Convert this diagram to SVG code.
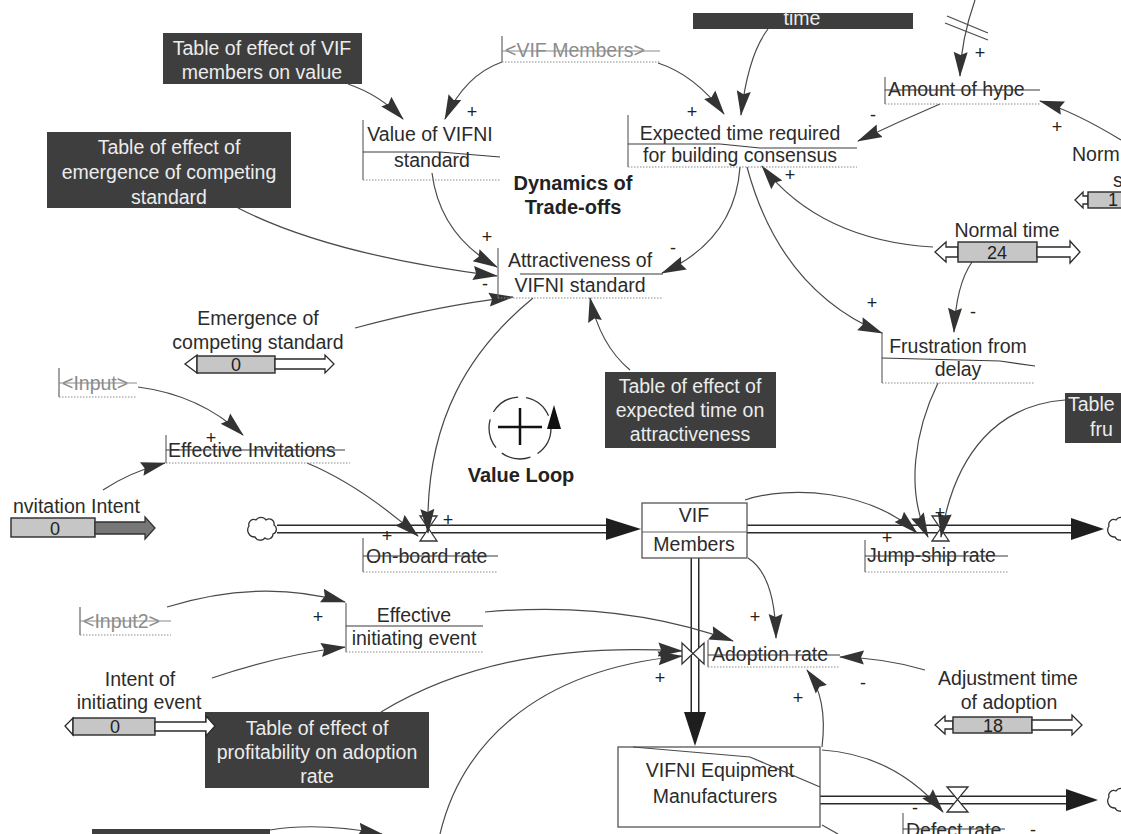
<svg xmlns="http://www.w3.org/2000/svg" width="1121" height="834" viewBox="0 0 1121 834">
  <style>
    .t { font-family: "Liberation Sans", Arial, sans-serif; font-size: 19.5px; fill: #2b2b2b; text-anchor: middle; }
    .ts { text-anchor: start; }
    .tw { fill: #ececec; }
    .tg { fill: #8c8c8c; }
    .bd { font-weight: bold; font-size: 20px; fill: #222; }
    .pm { font-family: "Liberation Sans", Arial, sans-serif; font-size: 18px; fill: #222; text-anchor: middle; }
    .v { font-family: "Liberation Sans", Arial, sans-serif; font-size: 18px; fill: #222; text-anchor: middle; }
    .tb { fill: #3e3e3e; }
    .ln { fill: none; stroke: #4a4a4a; stroke-width: 1.2; marker-end: url(#ah); }
    .lp { fill: none; stroke: #4a4a4a; stroke-width: 1.2; }
    .vl { stroke: #666; stroke-width: 1.2; }
    .dl { stroke: #8a8a8a; stroke-width: 1.2; stroke-dasharray: 1.5 1.5; }
    .st { stroke: #3a3a3a; stroke-width: 1.2; fill: none; }
    .sgr { stroke: #8a8a8a; stroke-width: 1.2; }
    .po { fill: none; stroke: #2a2a2a; stroke-width: 9; }
    .pi { fill: none; stroke: #fff; stroke-width: 6; }
    .fa { fill: #1e1e1e; }
    .valve { fill: #fff; stroke: #333; stroke-width: 1.3; }
    .cloud { fill: #fff; stroke: #333; stroke-width: 1.3; }
    .sk { fill: #c6c6c6; stroke: #2a2a2a; stroke-width: 1.4; }
    .sw { fill: #fff; stroke: #2a2a2a; stroke-width: 1.3; }
    .stock { fill: #fff; stroke: #555; stroke-width: 1.3; }
  </style>
  <defs>
    <marker id="ah" markerUnits="userSpaceOnUse" markerWidth="27" markerHeight="16" refX="24" refY="7.5" orient="auto" viewBox="0 0 27 16">
      <path d="M0,0.5 L25,7.5 L0,14.5 L3,7.5 z" fill="#333"/>
    </marker>
    <path id="cloud" class="cloud" d="M-13,-3 a5,5 0 0 1 7,-6 a6,6 0 0 1 10,0 a5,5 0 0 1 8,5 a5,5 0 0 1 -1,9 a5,5 0 0 1 -8,4 a6,6 0 0 1 -10,-1 a7,7 0 0 1 -6,-11 z"/>
  </defs>

  <rect width="1121" height="834" fill="#fff"/>

  <!-- material flows: pipes, valves, clouds -->
  <g id="flows">
    <path class="po" d="M277,529 H612 M747,529 H1075 M695,558 V716 M820,800 H1070"/>
    <path class="pi" d="M277,529 H612 M747,529 H1075 M695,558 V716 M820,800 H1070"/>
    <use href="#cloud" x="262" y="529"/>
    <use href="#cloud" x="1122" y="529"/>
    <use href="#cloud" x="1122" y="800"/>
    <polygon class="fa" points="606,518 641,529 606,540"/>
    <polygon class="fa" points="1071,518 1104,529 1071,540"/>
    <polygon class="fa" points="684,712 695,746 706,712"/>
    <polygon class="fa" points="1066,789 1098,800 1066,811"/>
    <path class="valve" d="M420,516 H437 L420,541 H437 Z"/>
    <path class="valve" d="M932,516 H949 L932,541 H949 Z"/>
    <path class="valve" d="M947,787 H968 L947,812 H968 Z"/>
    <path class="valve" d="M682,643 V664 L704,643 V664 Z"/>
  </g>

  <!-- stocks -->
  <g id="vif-members">
    <rect class="stock" x="642" y="503" width="105" height="55"/>
    <line x1="642" y1="532" x2="747" y2="532" stroke="#666" stroke-width="1.1"/>
    <text class="t" x="694" y="522">VIF</text>
    <text class="t" x="694" y="551">Members</text>
  </g>
  <g id="vifni-equipment-manufacturers">
    <rect class="stock" x="618" y="747" width="202" height="80"/>
    <text class="t" x="720" y="777">VIFNI Equipment</text>
    <text class="t" x="715" y="803">Manufacturers</text>
  </g>

  <!-- causal links -->
  <g id="connectors">
    <path class="ln" d="M348,84 Q380,95 403,119"/>
    <path class="ln" d="M502,62 Q465,75 445,119"/>
    <path class="ln" d="M658,63 Q695,75 724,114"/>
    <path class="ln" d="M768,29 Q748,55 741,115"/>
    <path class="ln" d="M975,0 Q961,40 960,76"/>
    <path class="lp" d="M947,16 L988,33 M945,23 L988,40"/>
    <path class="ln" d="M940,104 Q898,122 858,141"/>
    <path class="ln" d="M1121,140 Q1075,112 1040,101"/>
    <path class="ln" d="M933,247 Q820,240 762,166"/>
    <path class="ln" d="M972,262 Q956,285 954,332"/>
    <path class="ln" d="M747,167 Q780,290 882,333"/>
    <path class="ln" d="M740,167 Q735,240 662,273"/>
    <path class="ln" d="M432,173 Q440,235 497,267"/>
    <path class="ln" d="M238,208 Q330,255 497,276"/>
    <path class="ln" d="M355,328 Q440,305 513,297"/>
    <path class="ln" d="M630,370 Q600,345 590,298"/>
    <path class="ln" d="M533,298 C470,350 425,420 428,533"/>
    <path class="ln" d="M307,463 Q360,485 418,536"/>
    <path class="ln" d="M138,387 Q200,395 243,435"/>
    <path class="ln" d="M103,490 Q130,472 165,463"/>
    <path class="ln" d="M745,500 C790,485 870,490 917,533"/>
    <path class="ln" d="M938,383 C915,430 905,490 928,537"/>
    <path class="ln" d="M1065,400 C1000,405 955,450 941,537"/>
    <path class="ln" d="M167,607 Q260,578 345,602"/>
    <path class="ln" d="M212,678 Q280,655 345,647"/>
    <path class="ln" d="M381,712 Q500,640 682,651"/>
    <path class="ln" d="M440,834 C460,750 530,670 682,656"/>
    <path class="ln" d="M485,612 Q620,600 733,641"/>
    <path class="ln" d="M748,558 Q775,575 776,638"/>
    <path class="ln" d="M925,670 Q885,658 840,657"/>
    <path class="ln" d="M822,747 C826,715 822,690 807,670"/>
    <path class="ln" d="M822,750 Q895,755 943,812"/>
    <path class="ln" d="M270,830 C300,825 340,826 382,834"/>
    <polyline class="lp" points="633,747 750,757 820,787"/>
    <path class="lp" d="M822,825 L838,834"/>

    <!-- link polarities -->
    <text class="pm" x="472" y="118">+</text>
    <text class="pm" x="692" y="118">+</text>
    <text class="pm" x="980" y="59">+</text>
    <text class="pm" x="1057" y="133">+</text>
    <text class="pm" x="790" y="181">+</text>
    <text class="pm" x="487" y="243">+</text>
    <text class="pm" x="872" y="309">+</text>
    <text class="pm" x="211" y="444">+</text>
    <text class="pm" x="448" y="526">+</text>
    <text class="pm" x="387" y="542">+</text>
    <text class="pm" x="940" y="519">+</text>
    <text class="pm" x="887" y="544">+</text>
    <text class="pm" x="318" y="623">+</text>
    <text class="pm" x="755" y="623">+</text>
    <text class="pm" x="660" y="684">+</text>
    <text class="pm" x="798" y="704">+</text>
    <text class="pm" x="873" y="121">-</text>
    <text class="pm" x="673" y="254">-</text>
    <text class="pm" x="485" y="290">-</text>
    <text class="pm" x="973" y="318">-</text>
    <text class="pm" x="863" y="689">-</text>
    <text class="pm" x="915" y="814">-</text>
    <text class="pm" x="1033" y="836">-</text>
  </g>

  <!-- lookup tables -->
  <g id="table-vif-members-on-value">
    <rect class="tb" x="163" y="33" width="199" height="51"/>
    <text class="t tw" x="262" y="55">Table of effect of VIF</text>
    <text class="t tw" x="262" y="79">members on value</text>
  </g>
  <g id="table-emergence">
    <rect class="tb" x="47" y="132" width="244" height="76"/>
    <text class="t tw" x="169" y="154">Table of effect of</text>
    <text class="t tw" x="169" y="179">emergence of competing</text>
    <text class="t tw" x="169" y="204">standard</text>
  </g>
  <g id="table-time">
    <rect class="tb" x="693" y="13" width="220" height="16"/>
    <text class="t tw" x="802" y="25">time</text>
  </g>
  <g id="table-expected-time">
    <rect class="tb" x="605" y="372" width="171" height="76"/>
    <text class="t tw" x="690" y="393">Table of effect of</text>
    <text class="t tw" x="690" y="417">expected time on</text>
    <text class="t tw" x="690" y="441">attractiveness</text>
  </g>
  <g id="table-frustration">
    <rect class="tb" x="1065" y="393" width="56" height="50"/>
    <text class="t tw ts" x="1068" y="411">Table</text>
    <text class="t tw ts" x="1090" y="436">fru</text>
  </g>
  <g id="table-profitability">
    <rect class="tb" x="205" y="712" width="224" height="76"/>
    <text class="t tw" x="317" y="735">Table of effect of</text>
    <text class="t tw" x="317" y="759">profitability on adoption</text>
    <text class="t tw" x="317" y="783">rate</text>
  </g>
  <g id="table-bottom">
    <rect class="tb" x="92" y="829" width="178" height="10"/>
  </g>

  <!-- auxiliaries -->
  <g id="shadow-vif-members">
    <line class="vl" x1="502" y1="36" x2="502" y2="62"/>
    <text class="t tg ts" x="505" y="57">&lt;VIF Members&gt;</text>
    <line class="sgr" x1="502" y1="51" x2="660" y2="51"/>
    <line class="dl" x1="502" y1="62" x2="660" y2="62"/>
  </g>
  <g id="value-of-vifni-standard">
    <line class="vl" x1="363" y1="120" x2="363" y2="180"/>
    <text class="t" x="430" y="141">Value of VIFNI</text>
    <polyline class="st" points="363,152 440,152 500,157"/>
    <text class="t" x="432" y="167">standard</text>
    <line class="dl" x1="363" y1="180" x2="500" y2="180"/>
  </g>
  <g id="expected-time-required">
    <line class="vl" x1="628" y1="115" x2="628" y2="167"/>
    <text class="t" x="740" y="140">Expected time required</text>
    <polyline class="st" points="628,144 720,144 760,148 857,148"/>
    <text class="t" x="740" y="162">for building consensus</text>
    <line class="dl" x1="628" y1="167" x2="857" y2="167"/>
  </g>
  <g id="amount-of-hype">
    <line class="vl" x1="885" y1="77" x2="885" y2="104"/>
    <text class="t ts" x="888" y="96">Amount of hype</text>
    <line class="st" x1="885" y1="90" x2="1040" y2="90"/>
    <line class="dl" x1="885" y1="104" x2="1040" y2="104"/>
  </g>
  <g id="attractiveness-of-vifni-standard">
    <line class="vl" x1="498" y1="248" x2="498" y2="298"/>
    <text class="t" x="580" y="267">Attractiveness of</text>
    <line class="st" x1="520" y1="274" x2="663" y2="274"/>
    <text class="t" x="580" y="292">VIFNI standard</text>
    <line class="dl" x1="498" y1="298" x2="663" y2="298"/>
  </g>
  <g id="frustration-from-delay">
    <line class="vl" x1="882" y1="332" x2="882" y2="383"/>
    <text class="t" x="958" y="353">Frustration from</text>
    <polyline class="st" points="882,358 1000,361 1035,366"/>
    <text class="t" x="958" y="376">delay</text>
    <line class="dl" x1="882" y1="383" x2="1035" y2="383"/>
  </g>
  <g id="shadow-input">
    <line class="vl" x1="59" y1="368" x2="59" y2="397"/>
    <text class="t tg ts" x="62" y="390">&lt;Input&gt;</text>
    <line class="sgr" x1="59" y1="383" x2="137" y2="383"/>
    <line class="dl" x1="59" y1="397" x2="137" y2="397"/>
  </g>
  <g id="effective-invitations">
    <line class="vl" x1="166" y1="435" x2="166" y2="463"/>
    <text class="t ts" x="168" y="457">Effective Invitations</text>
    <line class="st" x1="166" y1="450" x2="345" y2="450"/>
    <line class="dl" x1="166" y1="463" x2="350" y2="463"/>
  </g>
  <g id="on-board-rate">
    <line class="vl" x1="363" y1="538" x2="363" y2="572"/>
    <text class="t ts" x="366" y="563">On-board rate</text>
    <line class="st" x1="363" y1="556" x2="498" y2="556"/>
    <line class="dl" x1="363" y1="572" x2="498" y2="572"/>
  </g>
  <g id="jump-ship-rate">
    <line class="vl" x1="865" y1="540" x2="865" y2="572"/>
    <text class="t ts" x="867" y="562">Jump-ship rate</text>
    <line class="st" x1="865" y1="556" x2="1008" y2="556"/>
    <line class="dl" x1="865" y1="572" x2="1008" y2="572"/>
  </g>
  <g id="shadow-input2">
    <line class="vl" x1="80" y1="607" x2="80" y2="635"/>
    <text class="t tg ts" x="83" y="628">&lt;Input2&gt;</text>
    <line class="sgr" x1="80" y1="621" x2="171" y2="621"/>
    <line class="dl" x1="80" y1="635" x2="171" y2="635"/>
  </g>
  <g id="effective-initiating-event">
    <line class="vl" x1="346" y1="603" x2="346" y2="652"/>
    <text class="t" x="414" y="622">Effective</text>
    <line class="st" x1="346" y1="626" x2="483" y2="626"/>
    <text class="t" x="414" y="645">initiating event</text>
    <line class="dl" x1="346" y1="652" x2="483" y2="652"/>
  </g>
  <g id="adoption-rate">
    <line class="vl" x1="708" y1="640" x2="708" y2="667"/>
    <text class="t ts" x="712" y="661">Adoption rate</text>
    <line class="st" x1="708" y1="655" x2="840" y2="655"/>
    <line class="dl" x1="708" y1="667" x2="840" y2="667"/>
  </g>
  <g id="defect-rate">
    <line class="vl" x1="903" y1="813" x2="903" y2="834"/>
    <text class="t ts" x="906" y="837">Defect rate</text>
    <line class="st" x1="903" y1="829" x2="1005" y2="829"/>
  </g>

  <!-- constants with sliders -->
  <g id="emergence-of-competing-standard">
    <text class="t" x="258" y="325">Emergence of</text>
    <text class="t" x="258" y="349">competing standard</text>
    <polygon class="sw" points="185,364 197,355 197,373"/>
    <rect class="sk" x="197" y="356" width="78" height="17"/>
    <polygon class="sw" points="275,359 325,359 325,355 334,364 325,373 325,369 275,369"/>
    <text class="v" x="236" y="371">0</text>
  </g>
  <g id="invitation-intent">
    <text class="t ts" x="13" y="513">nvitation Intent</text>
    <rect class="sk" x="11" y="518" width="84" height="19"/>
    <polygon points="95,522 145,522 145,517 155,528 145,539 145,534 95,534" fill="#777" stroke="#333" stroke-width="1.3"/>
    <text class="v" x="55" y="535">0</text>
  </g>
  <g id="normal-time">
    <text class="t" x="1007" y="237">Normal time</text>
    <polygon class="sw" points="958,247 946,247 946,242 935,252 946,262 946,257 958,257"/>
    <rect class="sk" x="958" y="242" width="79" height="20"/>
    <polygon class="sw" points="1037,247 1070,247 1070,241 1080,252 1070,263 1070,257 1037,257"/>
    <text class="v" x="997" y="259">24</text>
  </g>
  <g id="normal-partial">
    <text class="t ts" x="1072" y="161">Norm</text>
    <text class="t ts" x="1113" y="187">s</text>
    <polygon class="sw" points="1088,196 1083,196 1083,192 1075,200 1083,208 1083,204 1088,204"/>
    <rect class="sk" x="1088" y="192" width="40" height="16"/>
    <text class="v ts" x="1113" y="206" text-anchor="start">1</text>
  </g>
  <g id="intent-of-initiating-event">
    <text class="t" x="140" y="686">Intent of</text>
    <text class="t" x="139" y="709">initiating event</text>
    <polygon class="sw" points="65,726 73,718 73,735"/>
    <rect class="sk" x="73" y="718" width="82" height="17"/>
    <polygon class="sw" points="155,722 206,722 206,716 215,726 206,736 206,731 155,731"/>
    <text class="v" x="115" y="733">0</text>
  </g>
  <g id="adjustment-time-of-adoption">
    <text class="t" x="1008" y="685">Adjustment time</text>
    <text class="t" x="1009" y="709">of adoption</text>
    <polygon class="sw" points="953,721 945,721 945,716 935,725 945,734 945,729 953,729"/>
    <rect class="sk" x="953" y="717" width="79" height="16"/>
    <polygon class="sw" points="1032,720 1072,720 1072,715 1082,725 1072,735 1072,730 1032,730"/>
    <text class="v" x="993" y="732">18</text>
  </g>

  <!-- loop annotations -->
  <g id="label-dynamics">
    <text class="t bd" x="573" y="190">Dynamics of</text>
    <text class="t bd" x="573" y="214">Trade-offs</text>
  </g>
  <g id="loop-value">
    <circle cx="520" cy="428" r="31" fill="none" stroke="#333" stroke-width="1.3" stroke-dasharray="30 8"/>
    <path d="M498,427 H542 M520,408 V445" stroke="#111" stroke-width="2.5" fill="none"/>
    <polygon points="547,429 554,405 561,429" fill="#111"/>
    <text class="t bd" x="521" y="482">Value Loop</text>
  </g>
</svg>
